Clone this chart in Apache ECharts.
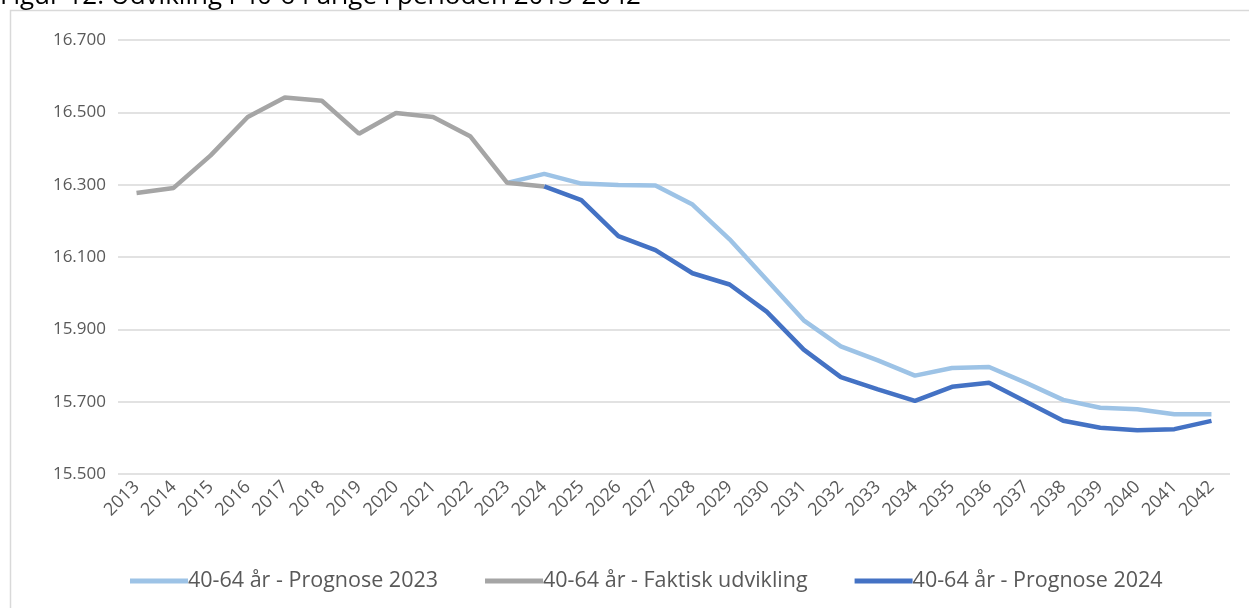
<!DOCTYPE html>
<html>
<head>
<meta charset="utf-8">
<script src="https://cdn.jsdelivr.net/npm/echarts@6/dist/echarts.min.js"></script>
<style>
  html, body { margin: 0; padding: 0; background: #fff; }
  #charts { width: 1249px; height: 608px; }
</style>
</head>
<body>
<div id="charts"></div>
<script>
// years on the x axis
var years = ['2013', '2014', '2015', '2016', '2017', '2018', '2019', '2020', '2021', '2022',
  '2023', '2024', '2025', '2026', '2027', '2028', '2029', '2030', '2031', '2032',
  '2033', '2034', '2035', '2036', '2037', '2038', '2039', '2040', '2041', '2042'];

// 40-64 år - Faktisk udvikling (2013-2024)
var faktisk = [16277, 16291, 16381, 16487, 16541, 16532, 16441, 16498, 16487, 16434,
  16305, 16295, null, null, null, null, null, null, null, null,
  null, null, null, null, null, null, null, null, null, null];

// 40-64 år - Prognose 2023 (2023-2042)
var prognose2023 = [null, null, null, null, null, null, null, null, null, null,
  16305, 16330, 16303, 16299, 16298, 16245, 16149, 16037, 15925, 15853,
  15814, 15772, 15793, 15796, 15752, 15705, 15683, 15679, 15665, 15665];

// 40-64 år - Prognose 2024 (2024-2042)
var prognose2024 = [null, null, null, null, null, null, null, null, null, null,
  null, 16295, 16257, 16158, 16119, 16055, 16024, 15949, 15844, 15768,
  15734, 15702, 15741, 15752, 15700, 15647, 15628, 15621, 15624, 15647];

var titleText = 'Figur 12. Udvikling i 40-64 årige i perioden 2013-2042';
var fontFam = '"Open Sans", "Noto Sans", sans-serif';

var myChart = echarts.init(document.getElementById('charts'), null, {width: 1249, height: 608});

var option = {
  animation: false,
  color: ['#9DC3E6', '#A5A5A5', '#4472C4'],
  graphic: [
    {
      type: 'rect',
      shape: {x: 10.5, y: 10.5, width: 1400, height: 800},
      style: {fill: 'none', stroke: '#D9D9D9', lineWidth: 1.5},
      z: -1
    },
    {
      type: 'text',
      x: 0,
      y: 10,
      style: {
        text: titleText,
        fill: '#000',
        font: '26px ' + fontFam,
        verticalAlign: 'bottom'
      }
    }
  ],
  grid: {left: 118, right: 19, top: 40, bottom: 134},
  legend: {
    data: ['40-64 år - Prognose 2023', '40-64 år - Faktisk udvikling', '40-64 år - Prognose 2024'],
    top: 565,
    left: 125,
    icon: 'rect',
    itemWidth: 58,
    itemHeight: 5,
    itemGap: 47,
    textStyle: {fontSize: 21.5, color: '#595959', fontFamily: fontFam, padding: [0, 0, 0, -5]}
  },
  xAxis: {
    type: 'category',
    data: years,
    axisLine: {show: false},
    axisTick: {show: false},
    axisLabel: {rotate: 45, fontSize: 18, color: '#595959', fontFamily: fontFam, margin: 10, interval: 0}
  },
  yAxis: {
    type: 'value',
    min: 15500,
    max: 16700,
    interval: 200,
    axisLine: {show: false},
    axisTick: {show: false},
    splitLine: {lineStyle: {color: '#D9D9D9', width: 1.5}},
    axisLabel: {
      fontSize: 17,
      color: '#595959',
      fontFamily: fontFam,
      margin: 12,
      formatter: function (v) { return (v / 1000).toFixed(3); }
    }
  },
  series: [
    {
      name: '40-64 år - Prognose 2023',
      type: 'line',
      data: prognose2023,
      symbol: 'none',
      lineStyle: {width: 4.5, color: '#9DC3E6'},
      z: 2
    },
    {
      name: '40-64 år - Faktisk udvikling',
      type: 'line',
      data: faktisk,
      symbol: 'none',
      lineStyle: {width: 4.5, color: '#A5A5A5'},
      z: 3
    },
    {
      name: '40-64 år - Prognose 2024',
      type: 'line',
      data: prognose2024,
      symbol: 'none',
      lineStyle: {width: 4.5, color: '#4472C4'},
      z: 4
    }
  ]
};

myChart.setOption(option);
</script>
</body>
</html>
